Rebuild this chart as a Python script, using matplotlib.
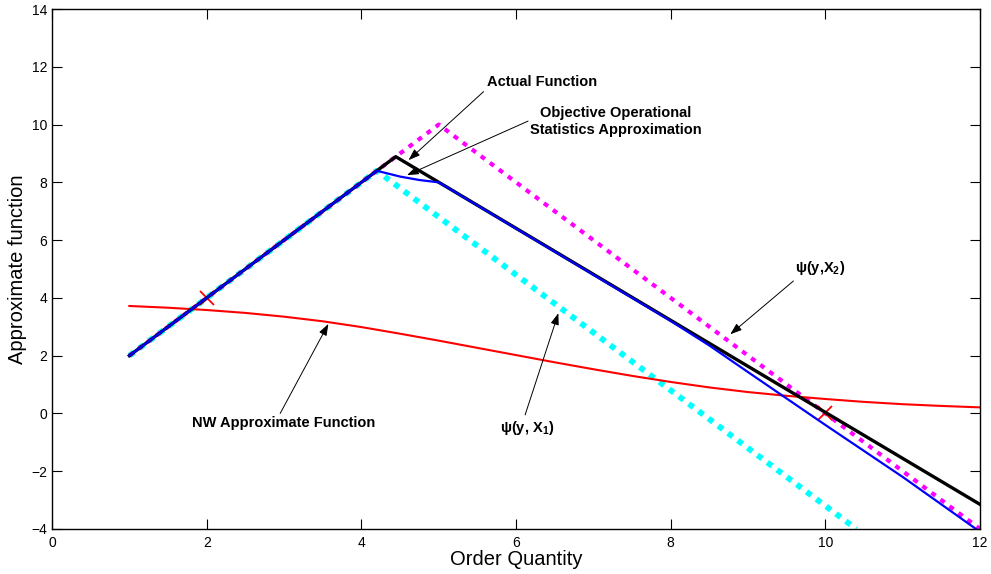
import numpy as np
import matplotlib
matplotlib.use('Agg')
import matplotlib.pyplot as plt

plt.rcParams['font.family'] = ['Liberation Sans', 'DejaVu Sans']
plt.rcParams['mathtext.fontset'] = 'custom'
plt.rcParams['mathtext.rm'] = 'Liberation Sans:bold'
plt.rcParams['mathtext.bf'] = 'Liberation Sans:bold'

# actual newsvendor-type function: rises as 2x, falls as 16 - 1.6x
x_actual = [1.0, 4.444, 12.0]
y_actual = [2.0, 8.889, -3.15]

# objective operational statistics approximation
x_oos = [1.0, 4.2, 4.5, 4.75, 5.0, 6.0, 7.0, 8.0, 8.5, 9.0, 10.0, 11.0, 12.0]
y_oos = [2.0, 8.4, 8.2, 8.08, 8.0, 6.4, 4.8, 3.2, 2.35, 1.43, -0.4, -2.2, -4.1]

# psi(y, X1) and psi(y, X2)
x_psi1 = [1.0, 4.2, 10.4]
y_psi1 = [2.0, 8.4, -4.0]
x_psi2 = [1.0, 5.0, 12.0]
y_psi2 = [2.0, 10.0, -4.0]

# Nadaraya-Watson estimate
x_nw = [1.0, 1.5, 2.0, 2.5, 3.0, 3.5, 4.0, 4.5, 5.0, 5.5, 6.0, 6.5,
        7.0, 7.5, 8.0, 8.5, 9.0, 9.5, 10.0, 10.5, 11.0, 11.5, 12.0]
y_nw = [3.72, 3.66, 3.58, 3.48, 3.35, 3.19, 2.99, 2.76, 2.52, 2.27, 2.02, 1.77,
        1.53, 1.30, 1.09, 0.90, 0.74, 0.61, 0.50, 0.40, 0.32, 0.26, 0.21]

# sample points
x_samp = [2, 10]
y_samp = [4, 0]

fig = plt.figure(figsize=(9.91, 5.74), dpi=100)
ax = fig.add_axes([0.0525, 0.0784, 0.9365, 0.9059])

ax.plot(x_psi1, y_psi1, color='cyan', lw=4.2, linestyle=(0, (1, 1.1)))
ax.plot(x_psi2, y_psi2, color='magenta', lw=3.0, linestyle=(0, (1.2, 1.5)))
ax.plot(x_nw, y_nw, color='red', lw=1.5)
ax.plot(x_samp, y_samp, 'x', color='red', ms=10, mew=1.3)
ax.plot(x_actual, y_actual, color='black', lw=2.4)
ax.plot(x_oos, y_oos, color='blue', lw=1.6)

ax.set_xlim(0, 12)
ax.set_ylim(-4, 14)
ax.set_xticks(range(0, 13, 2))
ax.set_yticks(range(-4, 15, 2))
ax.tick_params(direction='in', length=7, width=0.8, labelsize=10,
               top=True, right=True)
ax.tick_params(axis='x', pad=5)
for s in ax.spines.values():
    s.set_linewidth(1.0)

ax.set_xlabel('Order Quantity', fontsize=14.5, labelpad=0)
ax.set_ylabel('Approximate function', fontsize=14.5, labelpad=3)

arrow = dict(arrowstyle='-|>,head_length=0.7,head_width=0.25', color='black',
             lw=0.7, shrinkA=0, shrinkB=0)
bold = dict(fontsize=10.5, fontweight='bold')

# labels
ax.text(5.625, 11.47, 'Actual Function', ha='left', va='center', **bold)
ax.text(7.29, 10.11, 'Objective Operational\nStatistics Approximation',
        ha='center', va='center', multialignment='center', linespacing=1.3,
        **bold)
ax.text(9.61, 5.03, r'ψ(y,X$_\mathrm{2}$)', ha='left', va='center', **bold)
ax.text(2.99, -0.34, 'NW Approximate Function', ha='center', va='center',
        **bold)
ax.text(6.15, -0.5, r'ψ(y, X$_\mathrm{1}$)', ha='center', va='center', **bold)

# arrows: (tip, tail)
arrows = [((4.61, 8.77), (5.58, 11.14)),
          ((4.59, 8.25), (6.155, 10.12)),
          ((8.77, 2.74), (9.586, 4.585)),
          ((3.573, 3.1), (2.95, 0.0)),
          ((6.547, 3.47), (6.117, -0.05))]
for tip, tail in arrows:
    ax.annotate('', xy=tip, xytext=tail, arrowprops=arrow)

fig.savefig('out.png', dpi=100)
